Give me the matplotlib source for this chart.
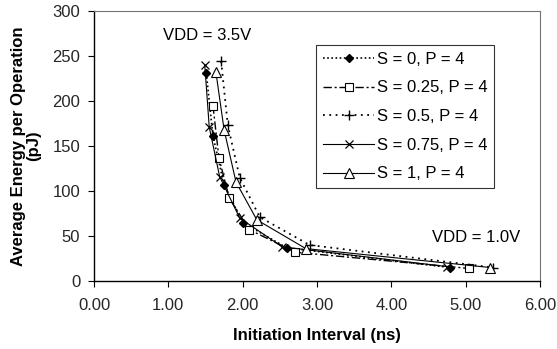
import matplotlib.pyplot as plt

plt.rcParams.update({
    "font.family": ["Liberation Sans", "DejaVu Sans"],
    "font.size": 12,
})

# Data
x_s0 = [1.51, 1.60, 1.75, 2.00, 2.59, 4.79]
y_s0 = [231, 161, 107, 65, 37, 15]
x_s025 = [1.60, 1.68, 1.82, 2.09, 2.71, 5.04]
y_s025 = [195, 137, 92, 57, 32, 14]
x_s05 = [1.71, 1.80, 1.96, 2.23, 2.90, 5.37]
y_s05 = [244, 173, 115, 71, 40, 15]
x_s075 = [1.49, 1.55, 1.69, 1.96, 2.53, 4.75]
y_s075 = [240, 171, 116, 70, 38, 16]
x_s1 = [1.64, 1.75, 1.91, 2.19, 2.85, 5.33]
y_s1 = [232, 168, 110, 68, 36, 15]
labels = ["S = 0, P = 4", "S = 0.25, P = 4", "S = 0.5, P = 4",
          "S = 0.75, P = 4", "S = 1, P = 4"]

fig = plt.figure(figsize=(5.57, 3.49), dpi=100)
ax = fig.add_axes([0.1688, 0.1948, 0.8007, 0.7737])

ax.plot(x_s0, y_s0, color="black", lw=1.2, ls=(0, (1, 1.5)),
        marker="D", ms=4.5, mfc="black", label=labels[0])
ax.plot(x_s025, y_s025, color="black", lw=1.0, ls=(0, (6, 2, 1.5, 2)),
        marker="s", ms=5.5, mfc="white", mew=0.8, label=labels[1])
ax.plot(x_s05, y_s05, color="black", lw=1.3, ls=(0, (1, 2.5)),
        marker="+", ms=7, mew=1.0, label=labels[2])
ax.plot(x_s075, y_s075, color="black", lw=0.8, ls="-",
        marker="x", ms=6, mew=0.9, label=labels[3])
ax.plot(x_s1, y_s1, color="black", lw=0.8, ls="-",
        marker="^", ms=6.5, mfc="white", mew=0.8, label=labels[4])

ax.set_xlim(0, 6)
ax.set_ylim(0, 300)
ax.set_xticks([0, 1, 2, 3, 4, 5, 6])
ax.set_xticklabels(["0.00", "1.00", "2.00", "3.00", "4.00", "5.00", "6.00"])
ax.set_yticks(range(0, 301, 50))
ax.tick_params(direction="out", length=4, width=0.8, labelsize=12,
               labelcolor="0.15")
ax.tick_params(axis="x", pad=8)
ax.tick_params(axis="y", pad=6)

for side in ["top", "right"]:
    ax.spines[side].set_color("0.45")
    ax.spines[side].set_linewidth(0.8)
for side in ["left", "bottom"]:
    ax.spines[side].set_linewidth(1.0)

ax.set_xlabel("Initiation Interval (ns)", fontweight="bold", fontsize=12,
              labelpad=11)
ax.set_ylabel("Average Energy per Operation\n(pJ)", fontweight="bold",
              fontsize=12, labelpad=8, linespacing=1.0)

ax.text(1.52, 273, "VDD = 3.5V", ha="center", va="center", fontsize=12)
ax.text(5.14, 48, "VDD = 1.0V", ha="center", va="center", fontsize=12)

leg = ax.legend(loc="upper left", bbox_to_anchor=(0.498, 0.874),
                frameon=True, fancybox=False, edgecolor="black",
                handlelength=3.1, handletextpad=0.15, borderpad=0.4,
                labelspacing=0.82, fontsize=12, borderaxespad=0)
leg.get_frame().set_linewidth(0.8)

fig.savefig("out.png", dpi=100)
